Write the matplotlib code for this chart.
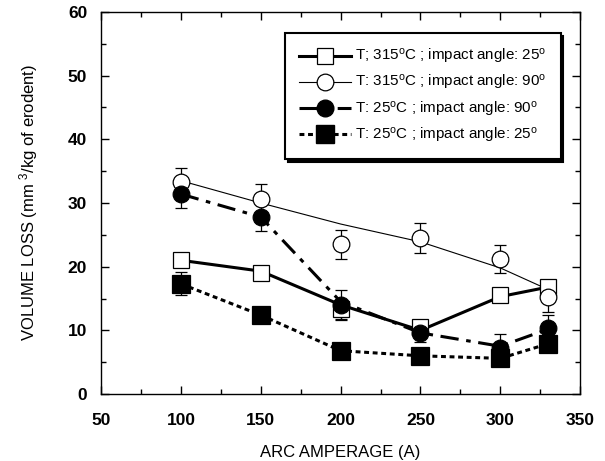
import matplotlib
matplotlib.use("Agg")
import matplotlib.pyplot as plt
from matplotlib.lines import Line2D
from matplotlib.ticker import MultipleLocator

plt.rcParams["font.family"] = ["Liberation Sans", "DejaVu Sans"]
plt.rcParams["mathtext.fontset"] = "custom"
plt.rcParams["mathtext.rm"] = "Liberation Sans"
plt.rcParams["mathtext.it"] = "Liberation Sans:italic"

# --- Donnees ---
amperage = [100, 150, 200, 250, 300, 330]

# T 315C, angle 25 (carres vides, trait plein epais)
sq_open = [21.0, 19.0, 13.3, 10.5, 15.5, 16.8]
sq_open_err = [1.0, 1.0, 1.5, 1.2, 1.0, 1.0]
sq_open_line = [21.0, 19.3, 14.0, 10.0, 15.3, 16.8]

# T 315C, angle 90 (cercles vides, droite d'ajustement fine)
circ_open = [33.3, 30.6, 23.5, 24.5, 21.2, 15.2]
circ_open_err = [2.2, 2.4, 2.3, 2.3, 2.2, 2.3]
circ_open_fit = [33.5, 30.0, 26.7, 23.9, 19.8, 16.4]

# T 25C, angle 90 (cercles pleins, tiret-point)
circ_full = [31.4, 27.8, 14.0, 9.6, 7.2, 10.4]
circ_full_err = [2.2, 2.2, 2.3, 1.5, 2.2, 2.0]
circ_full_line = [31.4, 27.8, 14.5, 9.6, 7.5, 10.2]

# T 25C, angle 25 (carres pleins, pointilles)
sq_full = [17.3, 12.4, 6.8, 6.0, 5.6, 7.9]
sq_full_err = [1.8, 0.8, 0.8, 0.8, 0.8, 0.8]

labels = [r"T; 315$^{\rm o}$C ; impact angle: 25$^{\rm o}$",
          r"T: 315$^{\rm o}$C ; impact angle: 90$^{\rm o}$",
          r"T: 25$^{\rm o}$C ; impact angle: 90$^{\rm o}$",
          r"T: 25$^{\rm o}$C ; impact angle: 25$^{\rm o}$"]

fig = plt.figure(figsize=(6.05, 4.61), dpi=100)
ax = fig.add_axes([0.167, 0.1453, 0.792, 0.8287])

# barres d'erreur
for y, e in [(sq_open, sq_open_err), (circ_open, circ_open_err),
             (circ_full, circ_full_err), (sq_full, sq_full_err)]:
    ax.errorbar(amperage, y, yerr=e, fmt="none", ecolor="black",
                elinewidth=0.9, capsize=4, capthick=0.9, zorder=2)

# courbes
dash_dot = (0, (6, 2.5, 1.5, 2.5))
dotted = (0, (1.6, 1.2))
ax.plot(amperage, sq_open_line, color="black", lw=2.2, zorder=3)
ax.plot(amperage, circ_open_fit, color="black", lw=0.8, zorder=3)
ax.plot(amperage, circ_full_line, color="black", lw=2.2, ls=dash_dot, zorder=3)
ax.plot(amperage, sq_full, color="black", lw=2.2, ls=dotted, zorder=3)

# marqueurs
ax.plot(amperage, sq_open, ls="none", marker="s", ms=12, mfc="white",
        mec="black", mew=0.9, zorder=4)
ax.plot(amperage, circ_open, ls="none", marker="o", ms=12, mfc="white",
        mec="black", mew=0.9, zorder=5)
ax.plot(amperage, circ_full, ls="none", marker="o", ms=12, mfc="black",
        mec="black", mew=0.9, zorder=6)
ax.plot(amperage, sq_full, ls="none", marker="s", ms=12.5, mfc="black",
        mec="black", mew=0.9, zorder=7)

handles = [
    Line2D([], [], color="black", lw=2.2, marker="s", ms=12, mfc="white", mec="black", mew=0.9),
    Line2D([], [], color="black", lw=0.8, marker="o", ms=12, mfc="white", mec="black", mew=0.9),
    Line2D([], [], color="black", lw=2.2, ls=dash_dot, marker="o", ms=12, mfc="black", mec="black"),
    Line2D([], [], color="black", lw=2.2, ls=dotted, marker="s", ms=12.5, mfc="black", mec="black"),
]
leg = ax.legend(handles, labels, loc="upper left", bbox_to_anchor=(0.384, 0.945),
                fontsize=10.9, handlelength=3.4, handletextpad=0.25, labelspacing=0.47,
                borderpad=0.95, borderaxespad=0, fancybox=False, framealpha=1,
                shadow={"color": "black", "alpha": 1})
leg.get_frame().set_edgecolor("black")
leg.get_frame().set_linewidth(1.5)

ax.set_xlim(50, 350)
ax.set_ylim(0, 60)
ax.xaxis.set_major_locator(MultipleLocator(50))
ax.xaxis.set_minor_locator(MultipleLocator(25))
ax.yaxis.set_major_locator(MultipleLocator(10))
ax.yaxis.set_minor_locator(MultipleLocator(5))
ax.tick_params(which="both", direction="in", top=True, right=True, width=1)
ax.tick_params(which="major", length=6, labelsize=12.5)
ax.tick_params(which="minor", length=3.5)
ax.tick_params(axis="x", which="major", pad=14)
ax.tick_params(axis="y", which="major", pad=10)
for t in ax.get_xticklabels() + ax.get_yticklabels():
    t.set_fontweight("bold")
for s in ax.spines.values():
    s.set_linewidth(1)

ax.set_xlabel("ARC AMPERAGE (A)", fontsize=12, labelpad=12)
ax.set_ylabel(r"VOLUME LOSS (mm $^{3}$/kg of erodent)", fontsize=12, labelpad=20)

fig.savefig("out.png", dpi=100)
